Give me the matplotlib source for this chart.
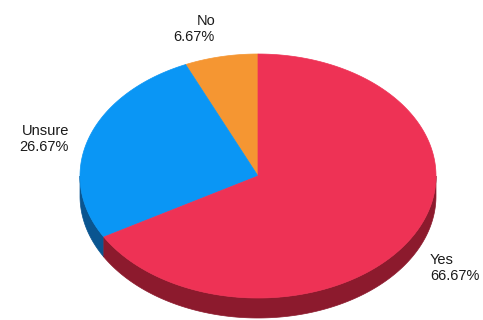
import numpy as np
import matplotlib.pyplot as plt
from matplotlib.patches import Polygon

# data (counter-clockwise from 12 o'clock)
labels = ['No', 'Unsure', 'Yes']
values = [1, 4, 10]
top_colors = ['#F59632', '#0A96F5', '#EE3255']
side_colors = ['#9A5A1E', '#0A5590', '#8C1A2D']

# pie geometry in pixels
cx, cy = 258, 176
rx, ry = 178, 122
depth = 20

# label anchors (x, y, ha)
label_pos = [(215, 29, 'right'), (69, 139, 'right'), (430, 268, 'left')]

plt.rcParams['font.family'] = ['Liberation Sans', 'DejaVu Sans']

fig = plt.figure(figsize=(4.83, 3.2), dpi=100)
ax = fig.add_axes([0, 0, 1, 1])
ax.set_xlim(0, 483)
ax.set_ylim(320, 0)
ax.axis('off')

total = sum(values)
start = 90.0
wedges = []
for v in values:
    span = 360.0 * v / total
    wedges.append((start, start + span))
    start += span


def rim(a0, a1, n=200):
    t = np.radians(np.linspace(a0, a1, n))
    return cx + rx * np.cos(t), cy - ry * np.sin(t)


# side walls (only the front half, 180..360 deg)
for (a0, a1), col in zip(wedges, side_colors):
    for off in (0, 360):
        lo = max(a0, 180 + off)
        hi = min(a1, 360 + off)
        if hi <= lo:
            continue
        x, y = rim(lo, hi)
        pts = np.column_stack([np.r_[x, x[::-1]], np.r_[y, y[::-1] + depth]])
        ax.add_patch(Polygon(pts, closed=True, facecolor=col, edgecolor=col, lw=0.5))

# top faces
for (a0, a1), col in zip(wedges, top_colors):
    x, y = rim(a0, a1)
    pts = np.column_stack([np.r_[cx, x], np.r_[cy, y]])
    ax.add_patch(Polygon(pts, closed=True, facecolor=col, edgecolor=col, lw=0.5))

# labels
for lab, v, (tx, ty, ha) in zip(labels, values, label_pos):
    ax.text(tx, ty, '%s\n%.2f%%' % (lab, 100.0 * v / total), ha=ha, va='center',
            fontsize=10.5, color='#1a1a1a', linespacing=1.1)

fig.savefig('out.png', dpi=100)
